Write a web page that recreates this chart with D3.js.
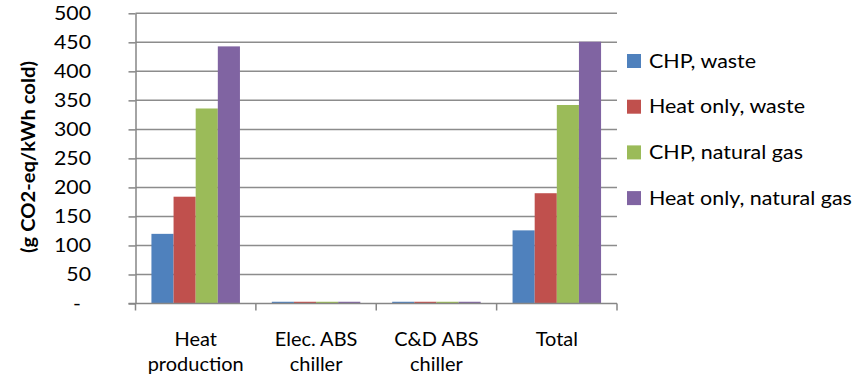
<!DOCTYPE html>
<html>
<head>
<meta charset="utf-8">
<script src="https://cdn.jsdelivr.net/npm/d3@7"></script>
<style>
  html, body { margin: 0; padding: 0; background: #fff; }
  svg { display: block; }
  text { font-family: Lato, "Open Sans", sans-serif; fill: #000; }
</style>
</head>
<body>
<svg id="chart" width="857" height="376"></svg>
<script>
// Emission factors per kWh of cold delivered
const categories = [["Heat", "production"], ["Elec. ABS", "chiller"], ["C&D ABS", "chiller"], ["Total"]];
const seriesNames = ["CHP, waste", "Heat only, waste", "CHP, natural gas", "Heat only, natural gas"];
const seriesColors = ["#4F81BD", "#C0504D", "#9BBB59", "#8064A2"];
const chpWaste = [120, 3, 3, 126];
const heatOnlyWaste = [184, 3, 3, 190];
const chpGas = [336, 3, 3, 342];
const heatOnlyGas = [443, 3, 3, 451];
const yTicks = [0, 50, 100, 150, 200, 250, 300, 350, 400, 450, 500];
const yTitle = "(g CO2-eq/kWh cold)";

const seriesValues = [chpWaste, heatOnlyWaste, chpGas, heatOnlyGas];

const svg = d3.select("#chart");
const plot = { left: 135.5, right: 617, top: 13.3, bottom: 303.5 };
const axisColor = "#868686";

const catKeys = categories.map((c, i) => i);
const x0 = d3.scaleBand().domain(catKeys).range([plot.left, plot.right]).padding(0);
const x1 = d3.scaleBand().domain(d3.range(seriesNames.length))
  .range([0, x0.bandwidth()]).paddingInner(0).paddingOuter(0.72);
const y = d3.scaleLinear().domain([0, 500]).range([plot.bottom, plot.top]);

// text drawn with a slightly wide face
function wideText(sel, x, y, sx, rotate) {
  return sel.append("text")
    .attr("transform", `translate(${x},${y})${rotate ? " rotate(" + rotate + ")" : ""} scale(${sx},1)`);
}

// horizontal gridlines
svg.append("g").selectAll("line").data(yTicks.filter(d => d > 0)).join("line")
  .attr("x1", plot.left).attr("x2", plot.right)
  .attr("y1", d => y(d)).attr("y2", d => y(d))
  .attr("stroke", "#8c8c8c").attr("stroke-width", 1.5);

// bars
const groups = svg.append("g").selectAll("g").data(catKeys).join("g")
  .attr("transform", d => `translate(${x0(d)},0)`);
groups.selectAll("rect")
  .data(ci => seriesValues.map((vals, si) => ({ si, v: vals[ci] })))
  .join("rect")
  .attr("x", d => x1(d.si))
  .attr("width", x1.bandwidth())
  .attr("y", d => y(d.v))
  .attr("height", d => y(0) - y(d.v))
  .attr("fill", d => seriesColors[d.si]);

// y axis line and ticks
const yAxis = d3.axisLeft(y).tickValues(yTicks).tickFormat("").tickSizeInner(7).tickSizeOuter(0);
const gy = svg.append("g").attr("transform", `translate(${plot.left},0)`).call(yAxis);
gy.select(".domain").attr("stroke", axisColor).attr("stroke-width", 1.5);
gy.selectAll(".tick line").attr("stroke", axisColor).attr("stroke-width", 1.5);

// y tick labels (accounting style: zero shown as a dash)
const yLab = svg.append("g");
yTicks.forEach(t => {
  wideText(yLab, t === 0 ? 81 : 91, y(t), 1.12)
    .attr("text-anchor", "end").attr("dy", "0.36em").attr("font-size", 19)
    .text(t === 0 ? "-" : t);
});

// x axis baseline and category boundary ticks
svg.append("line").attr("x1", plot.left - 7).attr("x2", plot.right)
  .attr("y1", y(0)).attr("y2", y(0)).attr("stroke", axisColor).attr("stroke-width", 1.5);
const boundaries = catKeys.map(k => x0(k)).concat([x0(catKeys[catKeys.length - 1]) + x0.bandwidth()]);
svg.append("g").selectAll("line").data(boundaries).join("line")
  .attr("x1", d => d).attr("x2", d => d)
  .attr("y1", y(0)).attr("y2", y(0) + 7)
  .attr("stroke", axisColor).attr("stroke-width", 1.5);

// category labels
const catG = svg.append("g");
catKeys.forEach(k => {
  categories[k].forEach((line, i) => {
    wideText(catG, x0(k) + x0.bandwidth() / 2, 346 + i * 24.7, 1.08)
      .attr("text-anchor", "middle").attr("font-size", 18.5).text(line);
  });
});

// y axis title
wideText(svg, 35, 157, 1.12, -90)
  .attr("text-anchor", "middle")
  .attr("font-size", 18).attr("font-weight", "bold")
  .text(yTitle);

// legend
const legend = svg.append("g").selectAll("g").data(seriesNames).join("g")
  .attr("transform", (d, i) => `translate(627,${61 + i * 45.7})`);
legend.append("rect").attr("x", 0).attr("y", -7).attr("width", 14).attr("height", 14)
  .attr("fill", (d, i) => seriesColors[i]);
legend.each(function (d) {
  wideText(d3.select(this), 22, 0, 1.16)
    .attr("dy", "0.36em").attr("font-size", 18.5).text(d);
});
</script>
</body>
</html>
